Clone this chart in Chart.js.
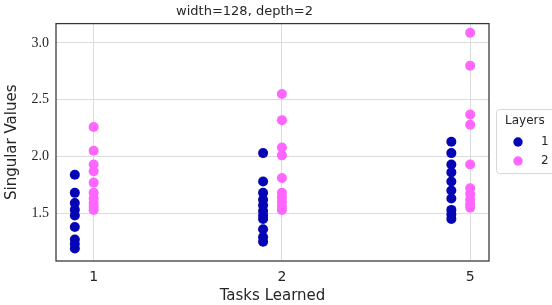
<!DOCTYPE html>
<html>
<head>
<meta charset="utf-8">
<script src="https://cdn.jsdelivr.net/npm/chart.js@4.4.1/dist/chart.umd.min.js"></script>
<style>
  html, body { margin: 0; padding: 0; background: #fff; }
  #wrap { width: 552px; height: 305px; }
</style>
</head>
<body>
<div id="wrap"><canvas id="chart" width="552" height="305"></canvas></div>
<script>
// categories on the x axis
const tasks = ['1', '2', '5'];
const layerNames = ['1', '2'];
const layerColors = ['#0505b5', '#ff66ff'];
const layerOffsets = [-0.1, 0];

// singular values per task
const layer1Values = [
  [1.84, 1.68, 1.59, 1.53, 1.48, 1.38, 1.27, 1.23, 1.19],
  [2.03, 1.78, 1.68, 1.62, 1.57, 1.52, 1.48, 1.45, 1.36, 1.29, 1.25],
  [2.13, 2.03, 1.93, 1.86, 1.78, 1.70, 1.63, 1.53, 1.49, 1.45]
];
const layer2Values = [
  [2.26, 2.05, 1.93, 1.87, 1.77, 1.68, 1.63, 1.59, 1.56, 1.53],
  [2.55, 2.32, 2.08, 2.01, 1.81, 1.68, 1.64, 1.60, 1.56, 1.53],
  [3.09, 2.80, 2.37, 2.28, 1.93, 1.72, 1.67, 1.62, 1.58, 1.55]
];
const yTicks = [1.5, 2.0, 2.5, 3.0];

function toPoints(values, offset) {
  const pts = [];
  values.forEach((list, i) => {
    list.forEach(v => pts.push({ x: i + offset, y: v }));
  });
  return pts;
}

const allValues = [layer1Values, layer2Values];

// frame around plot area (all four spines)
const framePlugin = {
  id: 'frame',
  afterDatasetsDraw(chart) {
    const a = chart.chartArea;
    const ctx = chart.ctx;
    ctx.save();
    ctx.strokeStyle = '#333';
    ctx.lineWidth = 1.25;
    ctx.strokeRect(a.left, a.top, a.right - a.left, a.bottom - a.top);
    ctx.restore();
  }
};

// legend box on the right, like the seaborn one
const legendPlugin = {
  id: 'sideLegend',
  afterDraw(chart) {
    const ctx = chart.ctx;
    const x = 496.5, y = 109.5, w = 80, h = 64, r = 3;
    ctx.save();
    ctx.beginPath();
    ctx.moveTo(x + r, y);
    ctx.lineTo(x + w, y);
    ctx.lineTo(x + w, y + h);
    ctx.lineTo(x + r, y + h);
    ctx.arcTo(x, y + h, x, y + h - r, r);
    ctx.lineTo(x, y + r);
    ctx.arcTo(x, y, x + r, y, r);
    ctx.closePath();
    ctx.fillStyle = '#fff';
    ctx.fill();
    ctx.strokeStyle = '#d6d6d6';
    ctx.lineWidth = 1;
    ctx.stroke();

    ctx.fillStyle = '#262626';
    ctx.font = '12px "DejaVu Sans"';
    ctx.textBaseline = 'middle';
    ctx.textAlign = 'left';
    ctx.fillText('Layers', 505, 121);
    chart.data.datasets.forEach((ds, i) => {
      const cy = 142 + i * 19;
      ctx.beginPath();
      ctx.arc(518, cy, 4.7, 0, Math.PI * 2);
      ctx.fillStyle = ds.backgroundColor;
      ctx.fill();
      ctx.fillStyle = '#262626';
      ctx.fillText(ds.label, 541, cy);
    });
    ctx.restore();
  }
};

new Chart(document.getElementById('chart'), {
  type: 'scatter',
  data: {
    datasets: layerNames.map((name, i) => ({
      label: name,
      data: toPoints(allValues[i], layerOffsets[i]),
      backgroundColor: layerColors[i],
      borderColor: layerColors[i],
      borderWidth: 0,
      pointRadius: 5,
      pointHoverRadius: 5
    }))
  },
  options: {
    responsive: false,
    animation: false,
    layout: { padding: { top: 0, right: 63, left: 0, bottom: 0 } },
    plugins: {
      legend: { display: false },
      tooltip: { enabled: false },
      title: {
        display: true,
        text: 'width=128, depth=2',
        color: '#262626',
        font: { family: 'DejaVu Sans', size: 13, weight: 'normal' },
        padding: { top: 4, bottom: 4 }
      }
    },
    scales: {
      x: {
        type: 'linear',
        min: -0.2,
        max: 2.1,
        afterBuildTicks: s => { s.ticks = tasks.map((t, i) => ({ value: i })); },
        afterFit: s => { s.height = 44; },
        grid: { color: '#dcdcdc', drawTicks: false },
        border: { display: false },
        ticks: {
          padding: 8,
          color: '#262626',
          font: { family: 'DejaVu Sans', size: 14 },
          callback: v => tasks[v]
        },
        title: {
          display: true,
          text: 'Tasks Learned',
          color: '#262626',
          font: { family: 'DejaVu Sans', size: 15 },
          padding: { top: 0, bottom: 0 }
        }
      },
      y: {
        min: 1.08,
        max: 3.17,
        afterBuildTicks: s => { s.ticks = yTicks.map(v => ({ value: v })); },
        afterFit: s => { s.width = 56; },
        grid: { color: '#dcdcdc', drawTicks: false },
        border: { display: false },
        ticks: {
          padding: 7,
          color: '#262626',
          font: { family: 'Liberation Serif', size: 14 },
          callback: v => v.toFixed(1)
        },
        title: {
          display: true,
          text: 'Singular Values',
          color: '#262626',
          font: { family: 'DejaVu Sans', size: 15 },
          padding: { top: 3, bottom: 0 }
        }
      }
    }
  },
  plugins: [framePlugin, legendPlugin]
});
</script>
</body>
</html>
